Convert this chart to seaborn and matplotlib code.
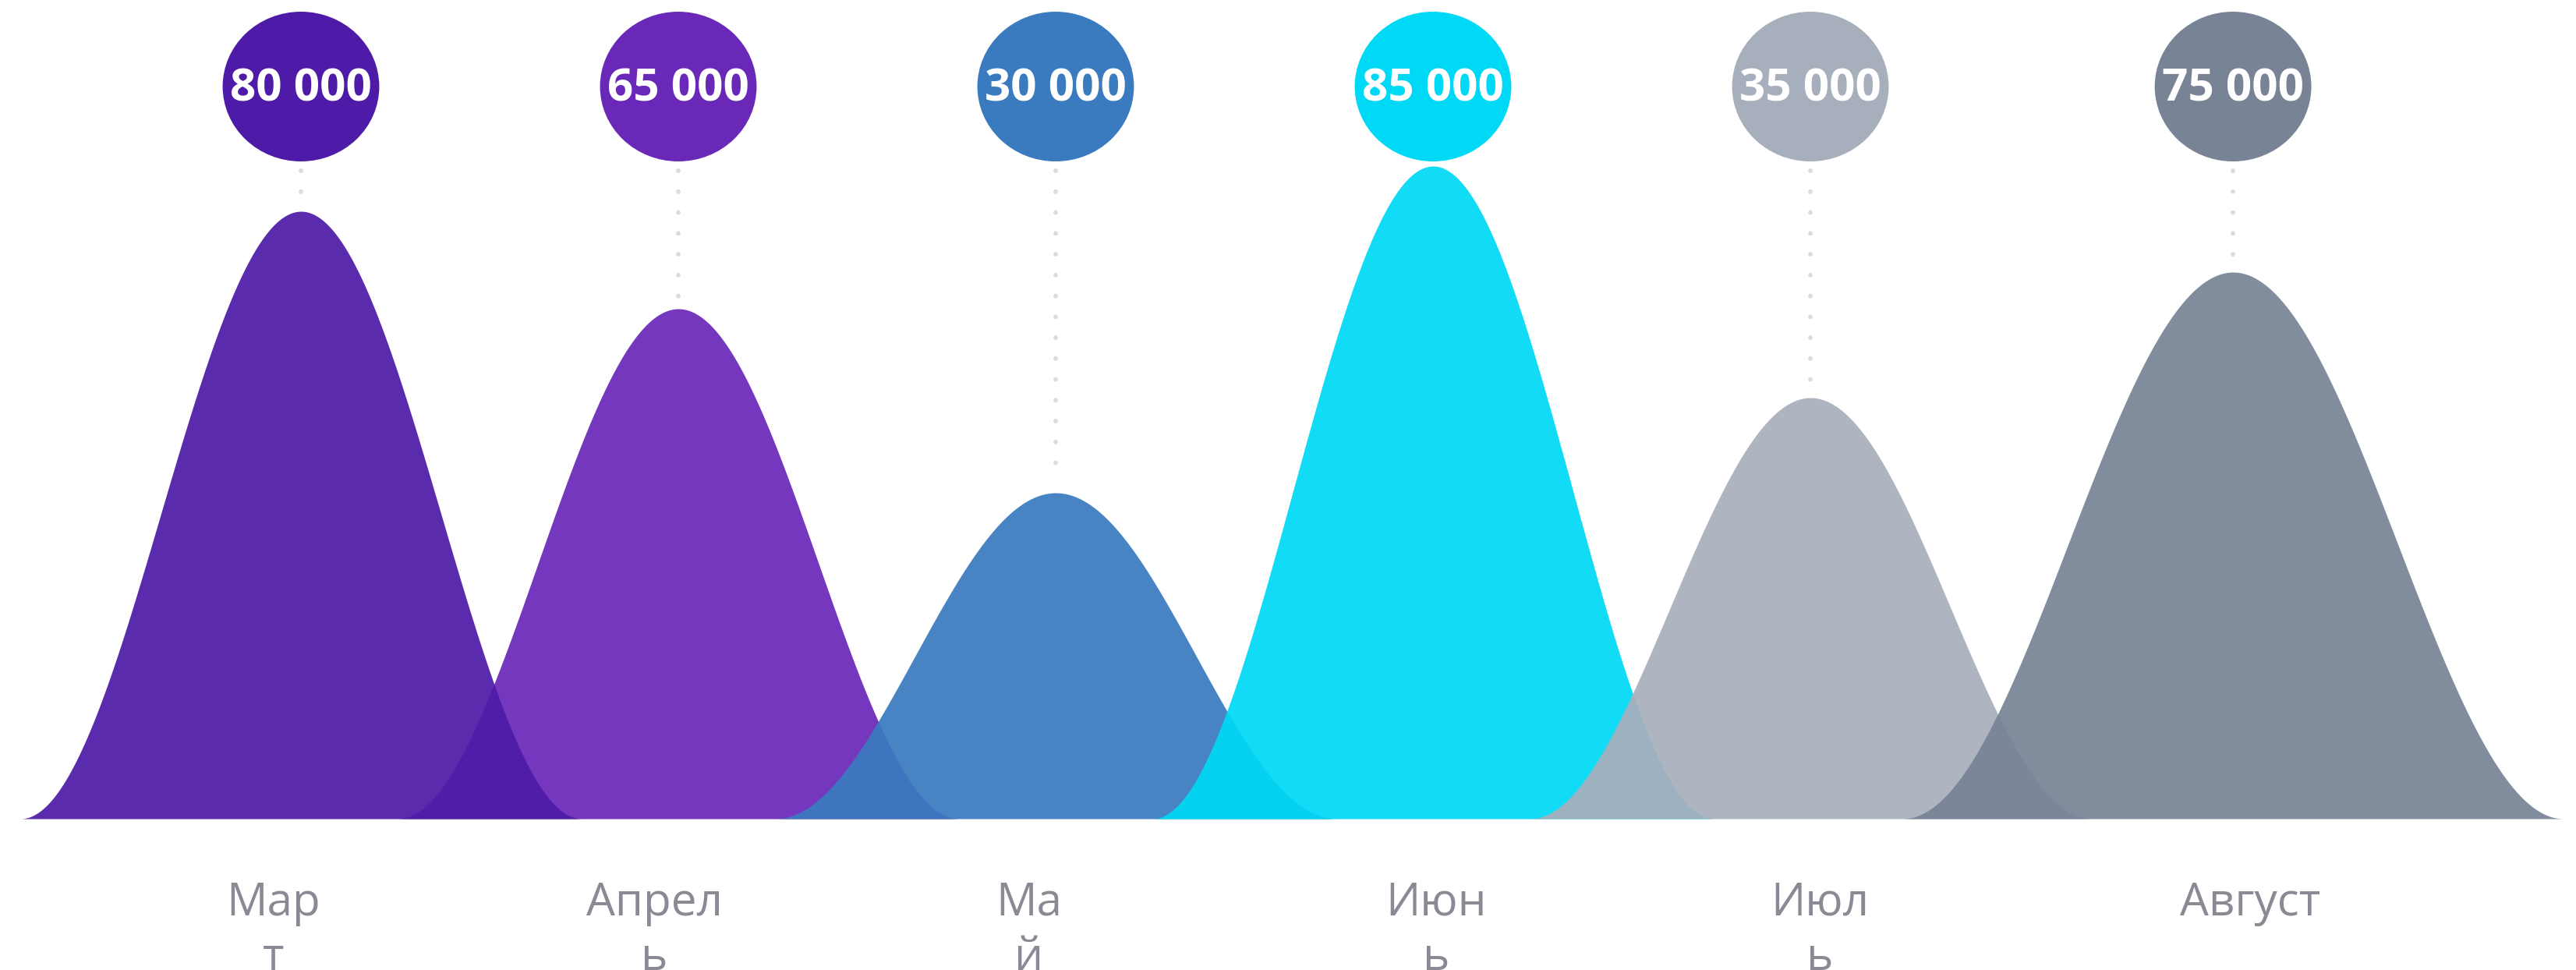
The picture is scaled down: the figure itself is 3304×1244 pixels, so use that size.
import numpy as np
import seaborn as sns
import matplotlib.pyplot as plt
from matplotlib.patches import Ellipse

# data
months = ["Мар\nт", "Апрел\nь", "Ма\nй", "Июн\nь", "Июл\nь", "Август"]
values = [80000, 65000, 30000, 85000, 35000, 75000]
# peak heights as drawn in the picture (thousands)
heights = [77.9, 65.4, 41.8, 83.7, 54.0, 70.1]
colors = ["#4e1ba8", "#6a28b8", "#3a7bbf", "#00d9f5", "#a8afbc", "#788396"]

# layout
pos = np.array([0, 1, 2, 3, 4, 5.12])
half_w = [0.744] * 5 + [0.876]
label_shift = [-0.074, -0.064, -0.07, 0.008, 0.025, 0.045]
zorders = [3, 1, 2, 4, 5, 6]

sns.set_theme(style="white")
plt.rcParams['font.family'] = ['Open Sans', 'DejaVu Sans']

fig = plt.figure(figsize=(33.04, 12.44), dpi=100)
ax = fig.add_axes([0, 0, 1, 1])
ax.set_xlim(-386 / 484, (3304 - 386) / 484)
ax.set_ylim(-19.4, 105.0)
ax.axis('off')

circle_y = 93.9
for i, m in enumerate(months):
    t = np.linspace(-1, 1, 400)
    xs = pos[i] + t * half_w[i]
    ys = heights[i] * (1 + np.cos(np.pi * t)) / 2
    ax.fill_between(xs, 0, ys, color=colors[i], alpha=0.93, lw=0, zorder=zorders[i])

    # dotted leader from bubble to peak
    top, bottom = 83.1, heights[i] + 1.2
    if top > bottom:
        ax.plot([pos[i], pos[i]], [top, bottom], color='#dcdcdc', lw=4.3,
                linestyle=(0, (0.01, 4.47)), dash_capstyle='round', zorder=0.5)

    ax.add_patch(Ellipse((pos[i], circle_y), width=0.415, height=19.2,
                         color=colors[i], lw=0, zorder=10))
    label = f"{values[i]:,}".replace(",", " ")
    ax.text(pos[i], 92.0, label, ha='center', va='baseline', fontsize=42,
            fontweight='bold', color='white', zorder=11)

    for k, line in enumerate(m.split("\n")):
        ax.text(pos[i] + label_shift[i], -12.4 - 7.0 * k, line, ha='center',
                va='baseline', fontsize=42, color='#8a8994')

sns.despine(left=True, bottom=True)
plt.savefig('out.png', dpi=100)
